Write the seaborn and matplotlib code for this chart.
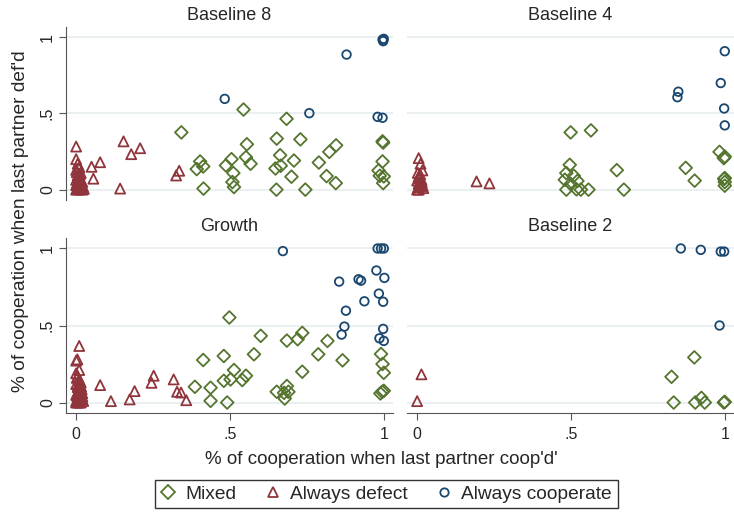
#!/usr/bin/env python3
import seaborn as sns
import matplotlib.pyplot as plt
from matplotlib.lines import Line2D
import pandas as pd

sns.set_style("white")
plt.rcParams["font.family"] = ["Liberation Sans", "DejaVu Sans"]

GREEN = "#55752f"
MAROON = "#90353b"
NAVY = "#1a476f"
GRID = "#e6eef0"

PANELS = ["Baseline 8", "Baseline 4", "Growth", "Baseline 2"]

# Baseline 8
b8_mixed_x = [0.544, 0.684, 0.342, 0.652, 0.729, 0.555, 0.845, 0.823, 0.996, 0.998,
              0.403, 0.392, 0.413, 0.487, 0.505, 0.552, 0.567, 0.663, 0.648, 0.665,
              0.708, 0.789, 0.511, 0.508, 0.513, 0.700, 0.814, 0.844, 0.414, 0.651,
              0.745, 0.996, 0.983, 0.987, 1.000, 0.998]
b8_mixed_y = [0.526, 0.465, 0.376, 0.335, 0.330, 0.298, 0.291, 0.248, 0.317, 0.309,
              0.185, 0.135, 0.152, 0.159, 0.200, 0.213, 0.170, 0.226, 0.139, 0.157,
              0.191, 0.178, 0.109, 0.050, 0.017, 0.085, 0.089, 0.043, 0.007, 0.000,
              0.000, 0.185, 0.126, 0.091, 0.087, 0.043]
b8_defect_x = [0.000, 0.154, 0.208, 0.179, 0.078, 0.050, 0.056, 0.143, 0.335, 0.325,
               0.000, 0.005, 0.010, 0.000, 0.015, 0.005, 0.010, 0.000, 0.020, 0.010,
               0.000, 0.005, 0.015, 0.020, 0.010, 0.000, 0.005, 0.003, 0.008, 0.013,
               0.018, 0.025, 0.003, 0.008, 0.013, 0.022, 0.006, 0.012, 0.002, 0.016,
               0.009, 0.004]
b8_defect_y = [0.283, 0.317, 0.272, 0.233, 0.180, 0.150, 0.072, 0.007, 0.124, 0.093,
               0.200, 0.170, 0.150, 0.130, 0.110, 0.095, 0.080, 0.065, 0.050, 0.040,
               0.030, 0.020, 0.010, 0.000, 0.000, 0.000, 0.060, 0.005, 0.012, 0.025,
               0.035, 0.005, 0.045, 0.055, 0.070, 0.020, 0.085, 0.100, 0.115, 0.060,
               0.140, 0.035]
b8_coop_x = [0.996, 1.000, 0.998, 0.879, 0.483, 0.758, 0.980, 0.996]
b8_coop_y = [0.985, 0.990, 0.975, 0.887, 0.596, 0.502, 0.478, 0.472]

# Baseline 4
b4_mixed_x = [0.499, 0.565, 0.496, 0.485, 0.509, 0.480, 0.521, 0.499, 0.485, 0.518,
              0.532, 0.557, 0.649, 0.672, 0.873, 0.902, 0.983, 1.000, 0.997, 1.000,
              1.000, 1.000, 0.998]
b4_mixed_y = [0.376, 0.389, 0.163, 0.109, 0.091, 0.065, 0.057, 0.037, 0.000, 0.002,
              0.000, 0.000, 0.128, 0.000, 0.143, 0.059, 0.248, 0.217, 0.207, 0.076,
              0.050, 0.026, 0.070]
b4_defect_x = [0.193, 0.235, 0.005, 0.011, 0.017, 0.005, 0.010, 0.000, 0.015, 0.005,
               0.010, 0.000, 0.020, 0.005, 0.012, 0.003, 0.008, 0.014, 0.018, 0.007,
               0.002]
b4_defect_y = [0.054, 0.041, 0.207, 0.170, 0.126, 0.087, 0.100, 0.060, 0.050, 0.040,
               0.020, 0.000, 0.010, 0.000, 0.030, 0.015, 0.045, 0.065, 0.025, 0.075,
               0.110]
b4_coop_x = [1.000, 0.987, 0.849, 0.846, 0.998, 1.000]
b4_coop_y = [0.909, 0.700, 0.643, 0.607, 0.533, 0.422]

# Growth
gr_mixed_x = [0.498, 0.600, 0.735, 0.720, 0.685, 0.817, 0.578, 0.787, 0.866, 0.413,
              0.480, 0.513, 0.552, 0.540, 0.480, 0.502, 0.735, 0.386, 0.437, 0.437,
              0.491, 0.652, 0.685, 0.676, 0.690, 0.678, 0.991, 0.996, 1.000, 0.989,
              1.000, 0.995]
gr_mixed_y = [0.552, 0.433, 0.452, 0.411, 0.402, 0.400, 0.313, 0.313, 0.274, 0.276,
              0.302, 0.211, 0.174, 0.146, 0.141, 0.150, 0.200, 0.102, 0.096, 0.011,
              0.000, 0.070, 0.107, 0.063, 0.070, 0.026, 0.315, 0.250, 0.193, 0.059,
              0.076, 0.070]
gr_defect_x = [0.010, 0.004, 0.000, 0.010, 0.078, 0.113, 0.174, 0.190, 0.245, 0.252,
               0.317, 0.328, 0.341, 0.358, 0.000, 0.005, 0.010, 0.015, 0.000, 0.005,
               0.010, 0.015, 0.020, 0.000, 0.005, 0.010, 0.020, 0.000, 0.010, 0.015,
               0.005, 0.000, 0.003, 0.008, 0.013, 0.018, 0.023, 0.003, 0.008, 0.013,
               0.018, 0.006, 0.012, 0.002, 0.016, 0.009, 0.004, 0.020]
gr_defect_y = [0.367, 0.280, 0.272, 0.211, 0.113, 0.009, 0.020, 0.074, 0.128, 0.174,
               0.150, 0.070, 0.065, 0.015, 0.190, 0.170, 0.150, 0.130, 0.120, 0.100,
               0.090, 0.080, 0.060, 0.050, 0.040, 0.030, 0.020, 0.010, 0.000, 0.000,
               0.000, 0.000, 0.005, 0.015, 0.025, 0.035, 0.010, 0.045, 0.055, 0.070,
               0.085, 0.110, 0.140, 0.160, 0.105, 0.125, 0.065, 0.040]
gr_coop_x = [0.672, 0.980, 0.991, 1.000, 0.976, 1.002, 0.855, 0.918, 0.926, 0.984,
             0.998, 0.937, 0.877, 0.872, 0.863, 0.998, 0.986, 1.000]
gr_coop_y = [0.983, 1.000, 1.000, 1.000, 0.857, 0.809, 0.785, 0.800, 0.791, 0.707,
             0.654, 0.657, 0.596, 0.493, 0.441, 0.478, 0.417, 0.400]

# Baseline 2
b2_mixed_x = [0.901, 0.827, 0.834, 0.904, 0.924, 0.935, 1.000, 0.997]
b2_mixed_y = [0.293, 0.167, 0.000, 0.000, 0.030, 0.000, 0.004, 0.000]
b2_defect_x = [0.014, 0.000]
b2_defect_y = [0.183, 0.009]
b2_coop_x = [0.857, 0.922, 0.987, 0.998, 0.983]
b2_coop_y = [1.000, 0.991, 0.980, 0.980, 0.500]

panel_data = {
    "Baseline 8": [(b8_mixed_x, b8_mixed_y), (b8_defect_x, b8_defect_y), (b8_coop_x, b8_coop_y)],
    "Baseline 4": [(b4_mixed_x, b4_mixed_y), (b4_defect_x, b4_defect_y), (b4_coop_x, b4_coop_y)],
    "Growth": [(gr_mixed_x, gr_mixed_y), (gr_defect_x, gr_defect_y), (gr_coop_x, gr_coop_y)],
    "Baseline 2": [(b2_mixed_x, b2_mixed_y), (b2_defect_x, b2_defect_y), (b2_coop_x, b2_coop_y)],
}
TYPES = ["Mixed", "Always defect", "Always cooperate"]
STYLE = {
    "Mixed": dict(marker="D", color=GREEN, s=42),
    "Always defect": dict(marker="^", color=MAROON, s=52),
    "Always cooperate": dict(marker="o", color=NAVY, s=38),
}

rows = []
for panel, series in panel_data.items():
    for typ, (xs, ys) in zip(TYPES, series):
        for x, y in zip(xs, ys):
            rows.append({"panel": panel, "type": typ, "coop": x, "def": y})
df = pd.DataFrame(rows)

fig = plt.figure(figsize=(7.34, 5.14), dpi=100)
W, H = 734, 514
boxes = {
    "Baseline 8": (66, 27, 393, 200),
    "Baseline 4": (407, 27, 734, 200),
    "Growth": (66, 238, 393, 413),
    "Baseline 2": (407, 238, 734, 413),
}

for i, panel in enumerate(PANELS):
    l, t, r, b = boxes[panel]
    ax = fig.add_axes([l / W, 1 - b / H, (r - l) / W, (b - t) / H])
    ax.set_axisbelow(True)
    for yv in [0, 0.5, 1]:
        ax.axhline(yv, color=GRID, lw=1.2, zorder=0)
    sub = df[df["panel"] == panel]
    for typ in TYPES:
        st = STYLE[typ]
        d = sub[sub["type"] == typ]
        sns.scatterplot(data=d, x="coop", y="def", ax=ax, marker=st["marker"],
                        s=st["s"], facecolor="none", edgecolor=st["color"],
                        linewidth=1.3, legend=False, zorder=3)
    ax.set_xlim(-0.033, 1.03)
    ax.set_ylim(-0.068, 1.068)
    ax.set_xlabel("")
    ax.set_ylabel("")
    ax.set_title(panel, fontsize=13, pad=5)
    for sp in ax.spines.values():
        sp.set_visible(False)
    left = i % 2 == 0
    bottom = i >= 2
    if left:
        ax.spines["left"].set_visible(True)
        ax.spines["left"].set_color("#555555")
        ax.set_yticks([0, 0.5, 1])
        ax.set_yticklabels(["0", ".5", "1"], rotation=90, va="center", fontsize=11.5)
        ax.tick_params(axis="y", length=5, color="#555555", pad=3, left=True)
    else:
        ax.set_yticks([])
    if bottom:
        ax.spines["bottom"].set_visible(True)
        ax.spines["bottom"].set_color("#555555")
        ax.set_xticks([0, 0.5, 1])
        ax.set_xticklabels(["0", ".5", "1"], fontsize=11.5)
        ax.tick_params(axis="x", length=5, color="#555555", pad=5, bottom=True)
    else:
        ax.set_xticks([])

fig.text(381 / W, 1 - 459 / H, "% of cooperation when last partner coop'd'",
         ha="center", va="center", fontsize=13.5)
fig.text(21 / W, 1 - 221 / H, "% of cooperation when last partner def'd",
         ha="center", va="center", rotation=90, fontsize=13.8)

handles = [
    Line2D([0], [0], marker=STYLE[t]["marker"], color="w", markerfacecolor="none",
           markeredgecolor=STYLE[t]["color"], markeredgewidth=1.3,
           markersize=7.5 if t != "Always cooperate" else 6, label=t)
    for t in TYPES
]
fig.legend(handles=handles, loc="center", bbox_to_anchor=(386 / W, 1 - 494 / H),
           ncol=3, frameon=True, fontsize=13.8, handlelength=0.8, handletextpad=0.5,
           columnspacing=1.5, borderpad=0.3, fancybox=False, edgecolor="black")

fig.savefig("out.png", dpi=100)
